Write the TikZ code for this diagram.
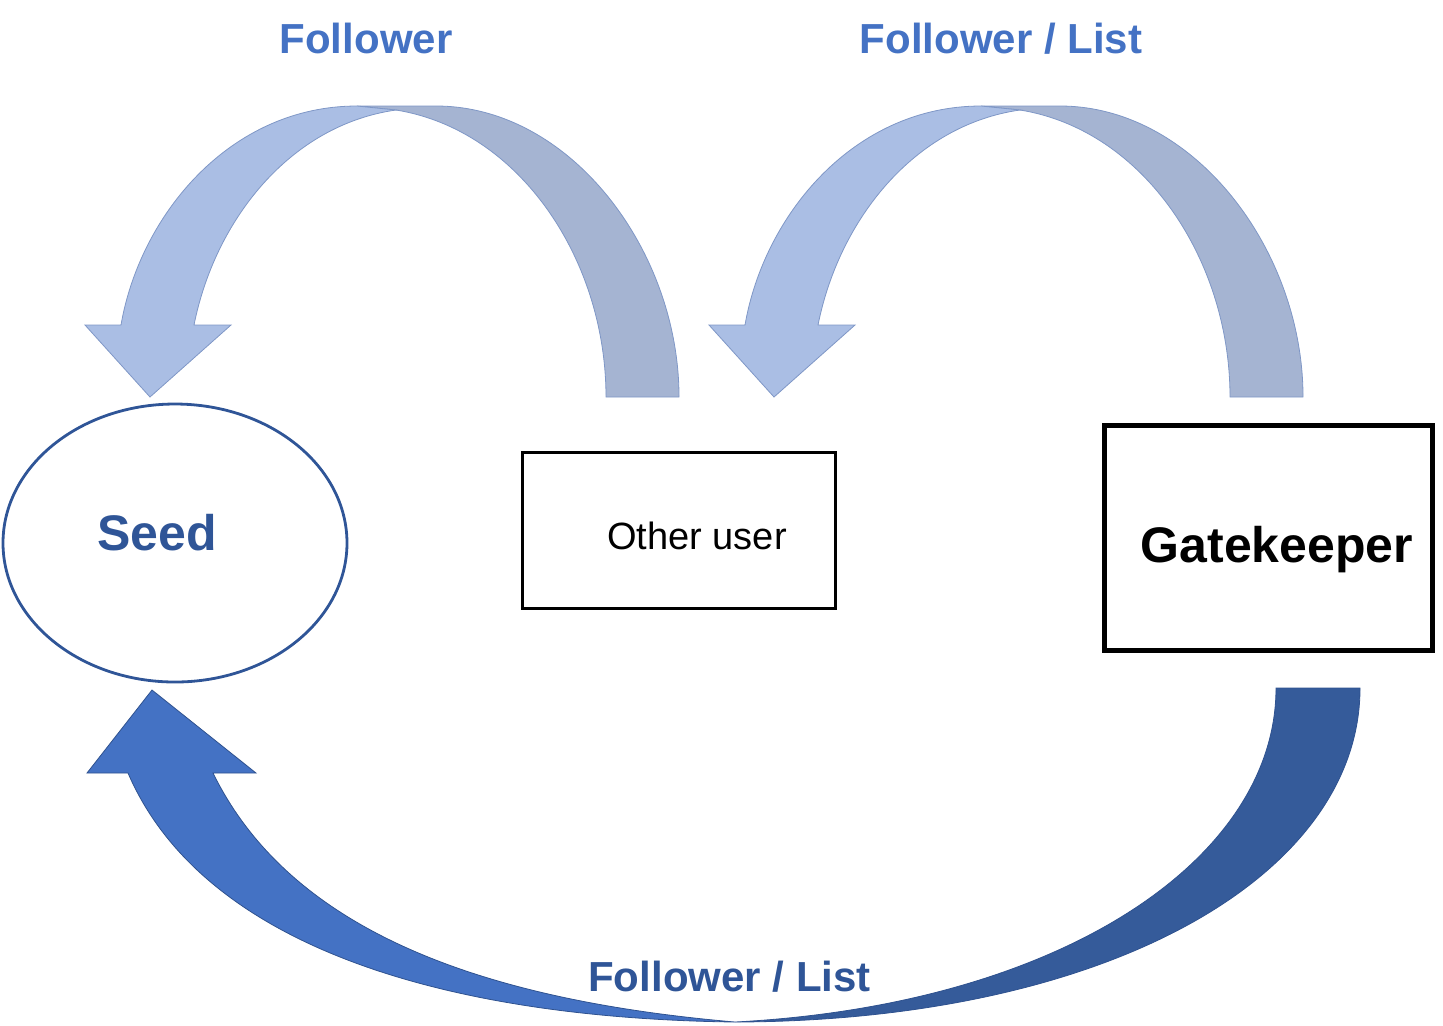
\documentclass[tikz,border=0pt]{standalone}
\usepackage{fontspec}
\setmainfont{Liberation Sans}
\usetikzlibrary{shapes.geometric}
\definecolor{seedblue}{HTML}{2F5597}
\definecolor{lblblue}{HTML}{4472C4}
\definecolor{lightfront}{HTML}{AABEE4}
\definecolor{lightback}{HTML}{A5B4D2}
\definecolor{lightline}{HTML}{7F97C6}
\definecolor{darkfront}{HTML}{4472C4}
\definecolor{darkback}{HTML}{355B9A}
\definecolor{darkline}{HTML}{2F528F}
\begin{document}
\begin{tikzpicture} [
    x=0.5pt, y=-0.5pt,
    lbl/.style={anchor=base, text=lblblue, font=\bfseries\fontsize{21}{25}\selectfont},
    seednd/.style={ellipse, draw=seedblue, line width=1.4pt, minimum width=172pt, minimum height=139pt, inner sep=0pt},
    boxnd/.style={rectangle, draw=black, inner sep=0pt},
    txt/.style={anchor=base},
    arcback/.style={fill=lightback, draw=lightline, line width=0.4pt},
    arcfront/.style={fill=lightfront, draw=lightline, line width=0.4pt},
    toparrow/.pic={
      \filldraw[arcback] (357,106) -- (436,106) .. controls (570,106) and (679,250) .. (679,397)
        -- (606,397) .. controls (606,260) and (520,130) .. (396,110) -- cycle;
      \filldraw[arcfront] (85,325) -- (121,325) .. controls (140,215) and (230,106) .. (357,106)
        -- (396,110) .. controls (290,125) and (215,220) .. (194,325) -- (231,325) -- (150,397) -- cycle;
    }
  ]
  \useasboundingbox (0,0) rectangle (1443,1025);
  % curved arrows on top
  \pic (arrowleft) at (0,0) {toparrow};
  \pic (arrowright) at (624,0) {toparrow};
  % curved arrow at the bottom
  \filldraw[fill=darkback, draw=darkline, line width=0.4pt] (1276,688) -- (1360,688)
    .. controls (1360,875) and (1110,1021) .. (735,1022)
    .. controls (1060,1005) and (1276,860) .. (1276,688) -- cycle;
  \filldraw[fill=darkfront, draw=darkline, line width=0.4pt] (152,690) -- (256,773) -- (213,773)
    .. controls (290,930) and (480,1000) .. (735,1022)
    .. controls (430,1018) and (200,940) .. (128,773) -- (87,773) -- cycle;
  % nodes
  \node[seednd] (seed) at (175,543) {};
  \node[boxnd, line width=1.5pt, minimum width=156.5pt, minimum height=78pt] (other) at (678.5,530) {};
  \node[boxnd, line width=2.5pt, minimum width=164pt, minimum height=112.5pt] (gate) at (1268,537.5) {};
  \node[txt, text=seedblue, font=\bfseries\fontsize{25}{30}\selectfont] (seedtxt) at (157,550) {Seed};
  \node[txt, font=\fontsize{19}{23}\selectfont] (othertxt) at (697,549) {Other user};
  \node[txt, font=\bfseries\fontsize{25}{30}\selectfont] (gatetxt) at (1277,562) {Gatekeeper};
  % labels
  \node[lbl] (lblone) at (366,53) {Follower};
  \node[lbl] (lbltwo) at (1001,53) {Follower / List};
  \node[lbl, text=seedblue] (lblthree) at (729.5,991) {Follower / List};
\end{tikzpicture}
\end{document}
